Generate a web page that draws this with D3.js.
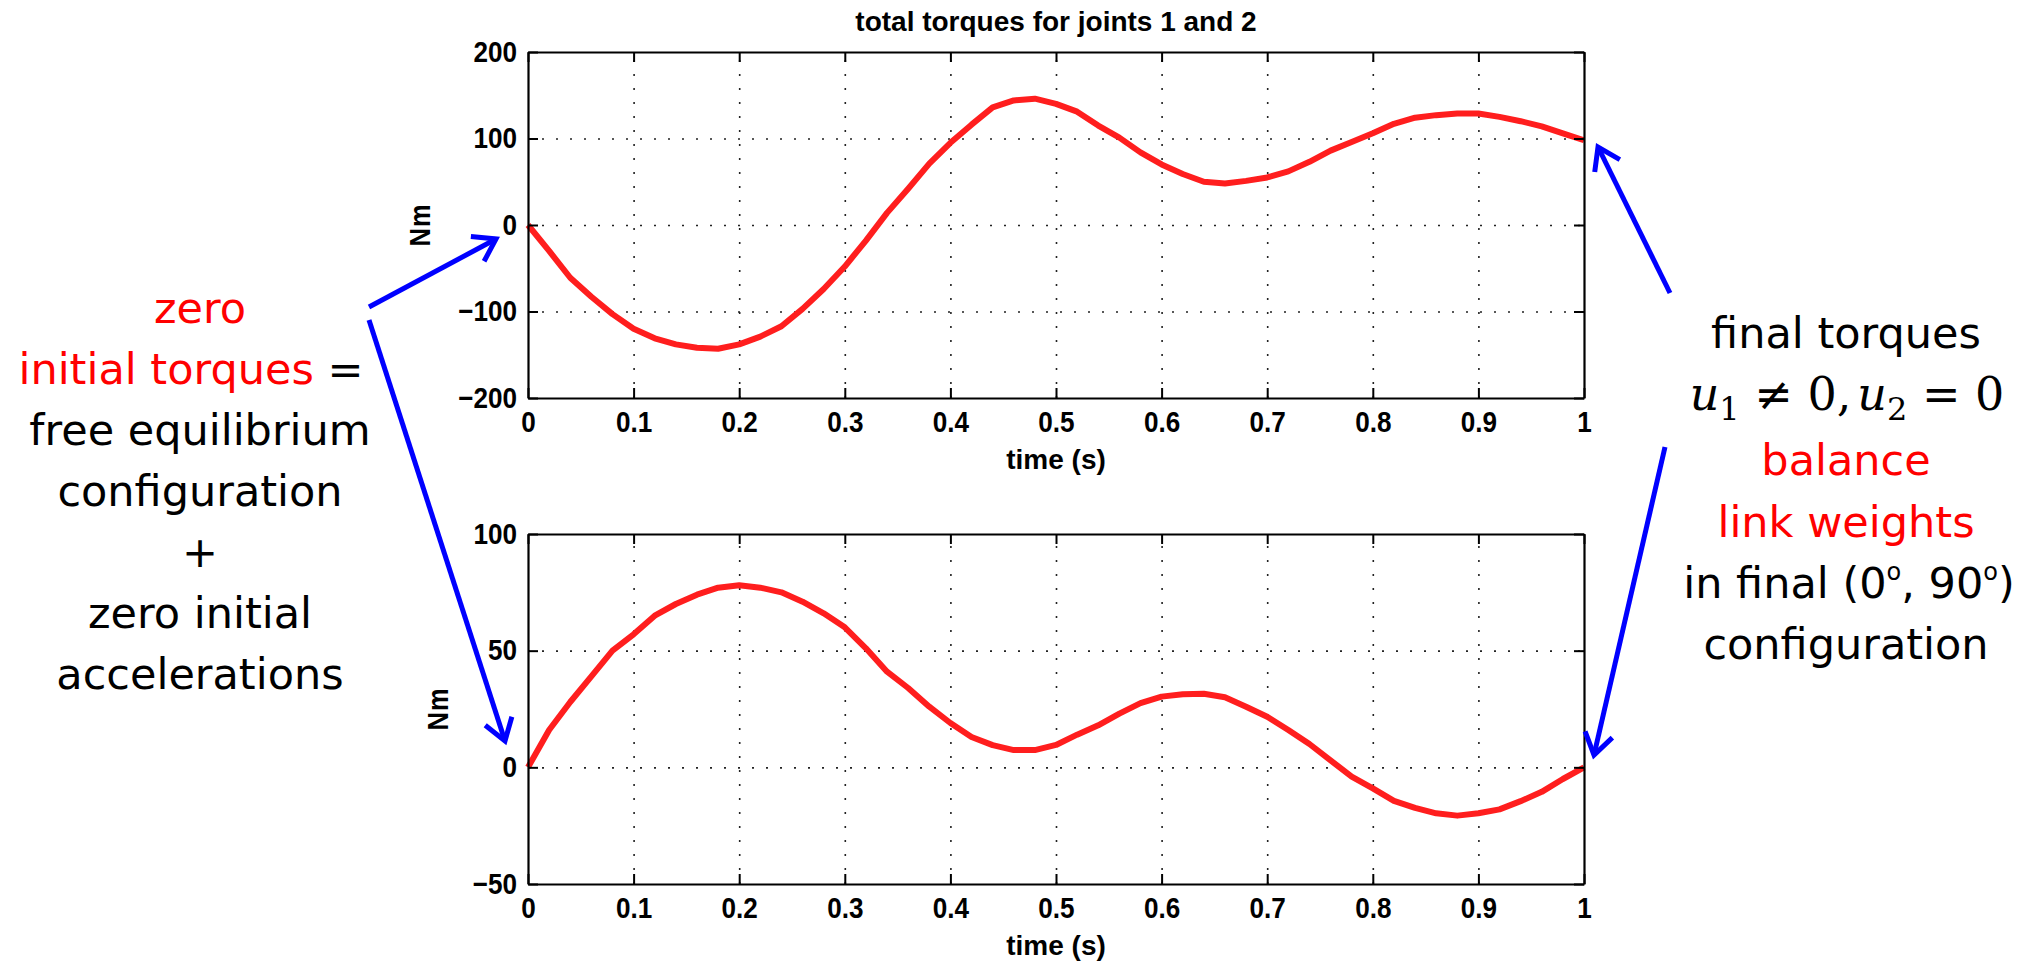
<!DOCTYPE html>
<meta charset="utf-8">
<style>
  body { margin: 0; background: #fff; }
  .tick text { font-family: "Liberation Sans", Arial, sans-serif; font-weight: bold; font-size: 29px; fill: #000; }
  .note { font-family: "DejaVu Sans", Verdana, sans-serif; font-size: 43px; }
</style>
<script src="https://cdn.jsdelivr.net/npm/d3@7"></script>
<body>
<div id="chart"></div>
</body>
<script>
// time samples (s) and the torques
var timeS = [0, 0.02, 0.04, 0.06, 0.08, 0.10, 0.12, 0.14, 0.16, 0.18,
             0.20, 0.22, 0.24, 0.26, 0.28, 0.30, 0.32, 0.34, 0.36, 0.38,
             0.40, 0.42, 0.44, 0.46, 0.48, 0.50, 0.52, 0.54, 0.56, 0.58,
             0.60, 0.62, 0.64, 0.66, 0.68, 0.70, 0.72, 0.74, 0.76, 0.78,
             0.80, 0.82, 0.84, 0.86, 0.88, 0.90, 0.92, 0.94, 0.96, 0.98, 1.00];

var torque1 = [0, -30, -61, -83, -103, -120, -131, -138, -142, -143,
               -138, -129, -117, -97, -74, -48, -18, 14, 42, 71,
               95, 116, 136, 144, 146, 140, 131, 115, 101, 84,
               70, 59, 50, 48, 51, 55, 62, 73, 86, 96,
               106, 117, 124, 127, 129, 129, 125, 120, 114, 106, 98];

var torque2 = [0, 16, 28, 39, 50, 57, 65, 70, 74, 77,
               78, 77, 75, 71, 66, 60, 51, 41, 34, 26,
               19, 13, 9.5, 7.4, 7.4, 9.6, 14, 18, 23, 27.5,
               30.3, 31.3, 31.5, 30, 26, 21.7, 16, 10, 3, -4,
               -9, -14.4, -17.4, -19.7, -20.7, -19.7, -18, -14.5, -10.5, -5, 0];

var xTicks = [0, 0.1, 0.2, 0.3, 0.4, 0.5, 0.6, 0.7, 0.8, 0.9, 1];
var yTicks1 = [-200, -100, 0, 100, 200];
var yTicks2 = [-50, 0, 50, 100];

var chartTitle = "total torques for joints 1 and 2";
var xLabel = "time (s)";
var yLabel = "Nm";

var width = 2044, height = 963;
var left = 528, right = 1584;
var squeeze = 0.9;   // matlab's bold font is a bit narrow

var svg = d3.select("#chart").append("svg")
    .attr("width", width)
    .attr("height", height);

// arrow head for the annotation arrows
svg.append("defs").append("marker")
    .attr("id", "head")
    .attr("markerUnits", "userSpaceOnUse")
    .attr("viewBox", "-30 -20 40 40")
    .attr("markerWidth", 40)
    .attr("markerHeight", 40)
    .attr("refX", 0).attr("refY", 0)
    .attr("orient", "auto")
  .append("path")
    .attr("d", "M-21,-14 L0,0 L-21,14")
    .attr("fill", "none")
    .attr("stroke", "#0000ff")
    .attr("stroke-width", 5);

var x = d3.scaleLinear().domain([0, 1]).range([left, right]);

function drawPanel(top, bottom, yDom, yTicks, values, labelX) {
  var y = d3.scaleLinear().domain(yDom).range([bottom, top]);
  var g = svg.append("g");

  // dotted grid
  g.append("g")
    .attr("transform", "translate(0," + bottom + ")")
    .call(d3.axisBottom(x).tickValues(xTicks.slice(1, -1)).tickSize(-(bottom - top)).tickFormat(""))
    .call(function(s) { s.select(".domain").remove(); })
    .selectAll("line").attr("stroke", "#222").attr("stroke-width", 1.6).attr("stroke-dasharray", "2,12");
  g.append("g")
    .attr("transform", "translate(" + left + ",0)")
    .call(d3.axisLeft(y).tickValues(yTicks.slice(1, -1)).tickSize(-(right - left)).tickFormat(""))
    .call(function(s) { s.select(".domain").remove(); })
    .selectAll("line").attr("stroke", "#222").attr("stroke-width", 1.6).attr("stroke-dasharray", "2,12");

  // the torque curve
  var line = d3.line()
    .x(function(d, i) { return x(timeS[i]); })
    .y(function(d) { return y(d); });
  g.append("path")
    .datum(values)
    .attr("d", line)
    .attr("fill", "none")
    .attr("stroke", "#ff1e1e")
    .attr("stroke-width", 6)
    .attr("stroke-linejoin", "round");

  // axes, ticks pointing inward on all four sides
  var bottomAxis = g.append("g").attr("transform", "translate(0," + bottom + ")")
      .call(d3.axisBottom(x).tickValues(xTicks).tickSizeInner(-10).tickSizeOuter(0).tickPadding(13)
        .tickFormat(function(d) { return String(d); }));
  var leftAxis = g.append("g").attr("transform", "translate(" + left + ",0)")
      .call(d3.axisLeft(y).tickValues(yTicks).tickSizeInner(-10).tickSizeOuter(0).tickPadding(11)
        .tickFormat(function(d) { return d < 0 ? "\u2212" + Math.abs(d) : String(d); }));
  var axes = [
    bottomAxis,
    g.append("g").attr("transform", "translate(0," + top + ")")
      .call(d3.axisTop(x).tickValues(xTicks).tickSizeInner(-10).tickSizeOuter(0).tickFormat("")),
    leftAxis,
    g.append("g").attr("transform", "translate(" + right + ",0)")
      .call(d3.axisRight(y).tickValues(yTicks).tickSizeInner(-10).tickSizeOuter(0).tickFormat(""))
  ];
  axes.forEach(function(a) {
    a.select(".domain").attr("stroke", "#000").attr("stroke-width", 2.2);
    a.selectAll(".tick line").attr("stroke", "#000").attr("stroke-width", 2);
  });
  bottomAxis.selectAll(".tick text").attr("transform", "scale(" + squeeze + ",1)");
  leftAxis.selectAll(".tick text")
    .attr("x", -11 / squeeze)
    .attr("transform", "scale(" + squeeze + ",1)");

  g.append("text")
    .attr("x", (left + right) / 2)
    .attr("y", bottom + 71)
    .attr("text-anchor", "middle")
    .style("font", "bold 28px 'Liberation Sans', Arial, sans-serif")
    .text(xLabel);

  g.append("text")
    .attr("transform", "translate(" + labelX + "," + (top + bottom) / 2 + ") rotate(-90) scale(0.85,1)")
    .attr("text-anchor", "middle")
    .attr("dy", "0.36em")
    .style("font", "bold 30px 'Liberation Sans', Arial, sans-serif")
    .style("letter-spacing", "1px")
    .text(yLabel);
}

drawPanel(52, 398, [-200, 200], yTicks1, torque1, 419);
drawPanel(534, 884, [-50, 100], yTicks2, torque2, 437);

svg.append("text")
  .attr("x", (left + right) / 2)
  .attr("y", 31)
  .attr("text-anchor", "middle")
  .style("font", "bold 28px 'Liberation Sans', Arial, sans-serif")
  .text(chartTitle);

// left annotation
var leftLines = [
  [["zero", "#ff0000"]],
  [["initial torques", "#ff0000"], [" =", "#000"]],
  [["free equilibrium", "#000"]],
  [["configuration", "#000"]],
  [["+", "#000"]],
  [["zero initial", "#000"]],
  [["accelerations", "#000"]]
];
leftLines.forEach(function(parts, i) {
  var t = svg.append("text").attr("class", "note")
    .attr("x", i === 1 ? 191 : 200)
    .attr("y", 323 + 61 * i)
    .attr("text-anchor", "middle");
  parts.forEach(function(p) { t.append("tspan").style("fill", p[1]).text(p[0]); });
});

// right annotation
var cx = 1846;
svg.append("text").attr("class", "note").attr("x", cx).attr("y", 348)
  .attr("text-anchor", "middle").style("fill", "#000").text("final torques");

var mathLine = svg.append("text").attr("x", cx + 1).attr("y", 410)
  .attr("text-anchor", "middle")
  .style("font-family", "'DejaVu Serif', 'Liberation Serif', serif")
  .style("font-size", "46px");
mathLine.append("tspan").style("font-style", "italic").text("u");
mathLine.append("tspan").attr("dy", 10).style("font-size", "32px").text("1");
mathLine.append("tspan").attr("dy", -10).text(" \u2260 0,");
mathLine.append("tspan").style("font-style", "italic").attr("dx", 6).text("u");
mathLine.append("tspan").attr("dy", 10).style("font-size", "32px").text("2");
mathLine.append("tspan").attr("dy", -10).text(" = 0");

svg.append("text").attr("class", "note").attr("x", cx).attr("y", 475)
  .attr("text-anchor", "middle").style("fill", "#ff0000").text("balance");
svg.append("text").attr("class", "note").attr("x", cx).attr("y", 537)
  .attr("text-anchor", "middle").style("fill", "#ff0000").text("link weights");

var deg = svg.append("text").attr("class", "note").attr("x", cx + 3).attr("y", 598)
  .attr("text-anchor", "middle").style("fill", "#000");
deg.append("tspan").text("in final (0");
deg.append("tspan").attr("dy", -18).style("font-size", "24px").text("o");
deg.append("tspan").attr("dy", 18).text(", 90");
deg.append("tspan").attr("dy", -18).style("font-size", "24px").text("o");
deg.append("tspan").attr("dy", 18).text(")");

svg.append("text").attr("class", "note").attr("x", cx).attr("y", 659)
  .attr("text-anchor", "middle").style("fill", "#000").text("configuration");

// blue arrows
var arrows = [
  [369, 307, 496, 239],
  [369, 320, 505, 741],
  [1670, 293, 1598, 147],
  [1665, 447, 1594, 755]
];
svg.selectAll(".arrow").data(arrows).enter().append("line")
  .attr("class", "arrow")
  .attr("x1", function(d) { return d[0]; })
  .attr("y1", function(d) { return d[1]; })
  .attr("x2", function(d) { return d[2]; })
  .attr("y2", function(d) { return d[3]; })
  .attr("stroke", "#0000ff")
  .attr("stroke-width", 5)
  .attr("marker-end", "url(#head)");
</script>
